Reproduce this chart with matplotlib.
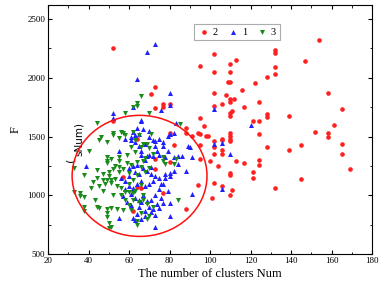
import matplotlib
matplotlib.use("Agg")
import matplotlib.pyplot as plt
from matplotlib.patches import Ellipse
from matplotlib.ticker import MultipleLocator

plt.rcParams['font.family'] = ['Liberation Serif', 'DejaVu Serif']

# Series "2" (red circles): (Num, F)
red_x = [52, 154, 132, 132, 113, 102, 147, 95, 110, 110, 102, 132, 132, 128, 109, 110, 122,
         73, 71, 116, 102, 108, 158, 110, 112, 110, 106, 102, 117, 124, 73, 77, 77, 80,
         111, 110, 110, 128, 128, 139, 165, 52, 95, 97, 88, 88, 121, 124, 161, 152, 158,
         158, 139, 145, 165, 165, 169, 145, 132, 128, 124, 110, 110, 110, 110, 94, 95, 91,
         99, 106, 102, 102, 106, 95, 82, 102, 106, 95, 100, 104, 110, 110, 113, 117, 124,
         124, 121, 121, 102, 106, 111, 110, 94, 101, 88, 80, 64, 73, 73, 57, 64, 66, 77,
         62, 80, 98, 106]
red_y = [2250, 2324, 2236, 2208, 2152, 2198, 2142, 2104, 2120, 2045, 2052, 2088, 2028, 2004,
         1962, 1962, 1952, 1920, 1864, 1896, 1868, 1855, 1873, 1819, 1815, 1790, 1774, 1758,
         1755, 1796, 1746, 1777, 1750, 1777, 1713, 1697, 1678, 1694, 1663, 1677, 1731, 1634,
         1661, 1587, 1570, 1534, 1634, 1636, 1598, 1541, 1527, 1496, 1383, 1425, 1434, 1350,
         1226, 1138, 1064, 1411, 1519, 1527, 1504, 1482, 1459, 1532, 1521, 1504, 1504, 1472,
         1459, 1413, 1388, 1425, 1425, 1351, 1351, 1306, 1291, 1249, 1187, 1170, 1290, 1277,
         1300, 1257, 1201, 1145, 1108, 1083, 1044, 1002, 1085, 977, 880, 1286, 1476, 1306,
         1221, 1153, 1068, 1060, 1016, 869, 1527, 1501, 1478]

# Series "1" (blue up-triangles)
blue_x = [73, 69, 64, 80, 80, 76, 62, 52, 52, 102, 120, 110, 102, 106, 106, 91, 88, 89, 91,
          84, 82, 80, 79, 77, 90, 82, 78, 80, 78, 76, 80, 77, 80, 73, 65, 55, 39, 83, 66, 66,
          64, 62, 58, 61, 63, 65, 66, 68, 70, 72, 73, 74, 75, 72, 70, 68, 66, 64, 62, 60, 63,
          65, 67, 69, 71, 73, 75, 72, 70, 68, 66, 64, 62, 60, 58, 61, 63, 65, 67, 69, 71, 73,
          75, 77, 79, 76, 74, 72, 70, 68, 66, 64, 62, 63, 66, 68, 71, 73, 75, 55, 57, 59, 61,
          56, 58, 60, 78, 80, 82, 84, 86, 79, 77, 75, 73, 67, 65, 63, 61, 70, 69, 71]
blue_y = [2284, 2222, 1986, 1873, 1768, 1726, 1754, 1697, 1655, 1737, 1595, 1348, 1436, 1442,
          1056, 1008, 1209, 1419, 1328, 1337, 1527, 1519, 1504, 1457, 1410, 1323, 1323, 1187,
          1150, 1097, 937, 937, 822, 733, 897, 1377, 1252, 1612, 1640, 1630, 1570, 1540, 1480,
          1500, 1450, 1420, 1380, 1440, 1500, 1470, 1420, 1380, 1340, 1330, 1340, 1300, 1340,
          1260, 1250, 1230, 1200, 1180, 1230, 1210, 1180, 1160, 1150, 1120, 1100, 1080, 1120,
          1100, 1060, 1080, 1050, 1010, 980, 960, 1000, 950, 960, 1000, 1050, 1100, 1040, 980,
          930, 880, 900, 870, 940, 840, 810, 790, 800, 820, 860, 830, 890, 810, 990, 940, 920,
          1150, 1120, 1160, 1180, 1160, 1210, 1270, 1330, 1380, 1420, 1480, 1460, 1560, 1520,
          1510, 1470, 1550, 1330, 1240]

# Series "3" (green down-triangles)
green_x = [33, 33, 36, 38, 38, 38, 38, 44, 44, 44, 45, 49, 49, 50, 50, 52, 55, 56, 58, 58, 62,
           64, 64, 66, 70, 85, 84, 65, 61, 63, 49, 49, 49, 51, 55, 55, 59, 59, 61, 67, 55, 55,
           47, 49, 51, 51, 53, 54, 58, 60, 62, 56, 67, 43, 45, 49, 51, 54, 57, 61, 49, 51, 64,
           64, 69, 63, 67, 66, 69, 70, 71, 72, 68, 64, 66, 70, 68, 64, 60, 57, 62, 66, 60, 56,
           63, 67, 69, 72, 65, 62, 66, 70, 60, 58, 52, 47, 45, 48, 42, 44, 47, 50, 52, 53, 50,
           52, 57, 62, 46, 40, 77, 78, 83, 82, 77, 36, 41]
green_y = [1229, 1030, 1022, 982, 897, 869, 1170, 1612, 1215, 903, 1470, 1453, 852, 767, 718,
           1510, 1487, 1540, 1510, 1697, 1748, 1782, 1760, 1845, 1697, 1606, 960, 1510, 1408,
           1368, 1323, 1289, 1272, 1306, 1294, 1328, 1340, 1272, 1260, 1294, 1238, 1198, 1130,
           1130, 1130, 1101, 1136, 1079, 1028, 1028, 1017, 1005, 1005, 959, 891, 883, 891, 883,
           874, 874, 812, 727, 784, 750, 801, 1470, 1440, 1410, 1440, 1400, 1520, 1350, 1320,
           1280, 1240, 1230, 1200, 1170, 1190, 1220, 1130, 1090, 1100, 1060, 1040, 960, 930, 900,
           940, 960, 850, 820, 920, 960, 1000, 1040, 1080, 1100, 1110, 1150, 1180, 1200, 1220,
           1250, 1160, 1530, 1530, 1540, 1500, 1380, 1290, 1270, 1305, 1270, 1325, 990, 1060]

legend_labels = ['2', '1', '3']
x_ticks = [20, 40, 60, 80, 100, 120, 140, 160, 180]
y_ticks = [500, 1000, 1500, 2000, 2500]

fig = plt.figure(figsize=(3.82, 2.90), dpi=100)
ax = fig.add_axes([0.1257, 0.124, 0.974 - 0.1257, 0.984 - 0.124])

ax.scatter(red_x, red_y, s=11, marker='o', color='#ff2020', linewidths=0, label=legend_labels[0], zorder=3)
ax.scatter(blue_x, blue_y, s=13, marker='^', color='#2020ff', linewidths=0, label=legend_labels[1], zorder=3)
ax.scatter(green_x, green_y, s=13, marker='v', color='#1a8a1a', linewidths=0, label=legend_labels[2], zorder=3)

ell = Ellipse((65.2, 1165), width=66.6, height=1030, fill=False, edgecolor='#ff1010', linewidth=1.1, zorder=4)
ax.add_patch(ell)

ax.text(31.3, 1300, '(', rotation=90, fontsize=8, ha='center', va='center', family=['DejaVu Sans'])
ax.text(35.4, 1480, 'sNum)', rotation=90, fontsize=7.5, ha='center', va='center', family=['DejaVu Sans'])

ax.set_xlim(20, 180)
ax.set_ylim(500, 2622)
ax.set_xticks(x_ticks)
ax.set_yticks(y_ticks)
ax.xaxis.set_minor_locator(MultipleLocator(10))
ax.yaxis.set_minor_locator(MultipleLocator(250))
ax.tick_params(which='both', direction='in', top=True, right=True, labelsize=6.5, pad=2)
ax.tick_params(which='major', length=3, width=0.8)
ax.tick_params(which='minor', length=1.8, width=0.6)
for sp in ax.spines.values():
    sp.set_linewidth(0.8)

ax.set_xlabel('The number of clusters Num', fontsize=9, labelpad=2)
ax.set_ylabel('F', fontsize=9, labelpad=4)

leg = ax.legend(ncol=3, loc='upper center', bbox_to_anchor=(0.583, 0.945), fontsize=7.5,
                frameon=True, fancybox=False, edgecolor='#999999', handletextpad=0.2,
                columnspacing=0.9, borderpad=0.35, handlelength=1.2, markerscale=1.0)
leg.get_frame().set_linewidth(0.8)

fig.savefig('out.png', dpi=100)
